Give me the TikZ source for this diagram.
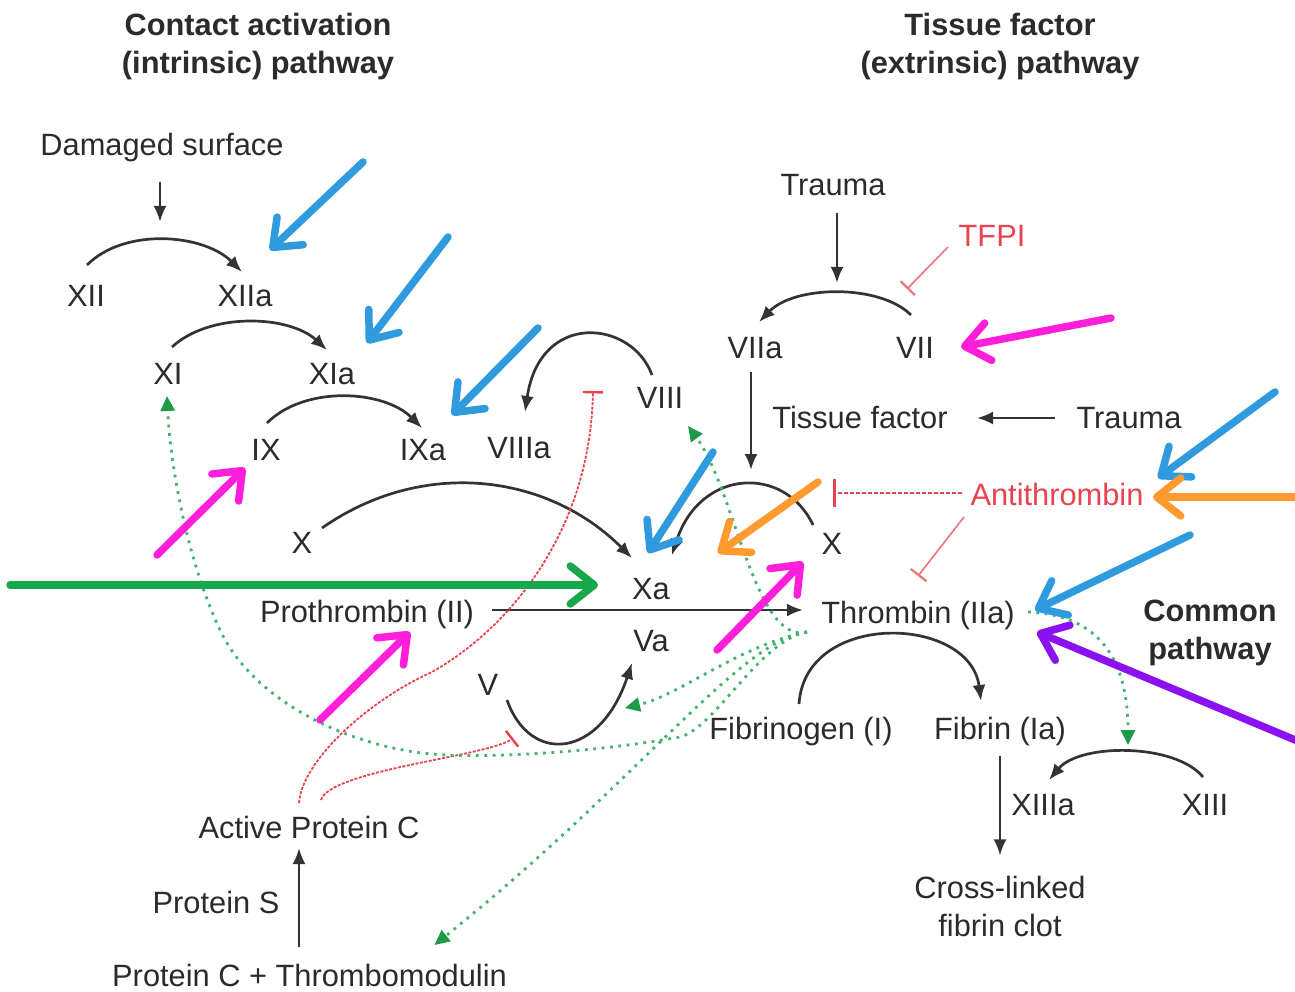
\documentclass[tikz,border=0pt]{standalone}
\usepackage{fontspec}
\setmainfont{Liberation Sans}
\usetikzlibrary{arrows.meta}
\definecolor{txt}{HTML}{2B2B2B}
\definecolor{ln}{HTML}{333333}
\definecolor{rd}{HTML}{E8434E}
\definecolor{rdl}{HTML}{EA7478}
\definecolor{gd}{HTML}{45B36B}
\definecolor{gdh}{HTML}{1E9A4A}
\definecolor{cblue}{HTML}{2F9BDE}
\definecolor{cmag}{HTML}{FF1ED9}
\definecolor{cgreen}{HTML}{17A84B}
\definecolor{corange}{HTML}{FF9A2E}
\definecolor{cpurple}{HTML}{8B10F2}
\begin{document}
\begin{tikzpicture}[x=1pt,y=-1pt,
 lbl/.style={font=\fontsize{30.8}{38}\selectfont, text=txt, inner sep=0pt, anchor=base},
 head/.style={font=\fontsize{30.8}{38}\selectfont\bfseries, text=txt, inner sep=0pt, align=center, anchor=center},
 arr/.style={draw=ln, line width=2.7pt, -{Latex[length=16pt,width=13pt]}},
 inh/.style={draw=rd, line width=1.8pt, dash pattern=on 3pt off 1.5pt, -{Bar[width=20pt,line width=2.4pt]}},
 inhs/.style={draw=rdl, line width=1.6pt, -{Bar[width=20pt,line width=2.2pt]}},
 act/.style={draw=gd, line width=2.8pt, dash pattern=on 2.8pt off 5.6pt, -{Triangle[length=15pt,width=14pt,color=gdh]}},
 big/.style={line width=7.5pt, line cap=round, -{Straight Barb[length=24pt,width=38pt,round]}},
]
\fill[white] (0,0) rectangle (1295,992);
\useasboundingbox (0,0) rectangle (1295,992);

% headings
\node[head] (h1) at (258,47) {Contact activation\\(intrinsic) pathway};
\node[head] (h2) at (1000,47) {Tissue factor\\(extrinsic) pathway};
\node[head] (h3) at (1210,633) {Common\\pathway};

% labels
\node[lbl] (dmg) at (162,156) {Damaged surface};
\node[lbl] (XII) at (86,306) {XII};
\node[lbl] (XIIa) at (245,306) {XIIa};
\node[lbl] (XI) at (168,384) {XI};
\node[lbl] (XIa) at (332,384) {XIa};
\node[lbl] (IX) at (266,460) {IX};
\node[lbl] (IXa) at (423,460) {IXa};
\node[lbl] (VIIIa) at (519,458) {VIIIa};
\node[lbl] (VIII) at (660,408) {VIII};
\node[lbl] (Xl) at (302,553) {X};
\node[lbl] (Xa) at (651,599) {Xa};
\node[lbl] (Va) at (651,651) {Va};
\node[lbl] (Xr) at (832,554) {X};
\node[lbl] (V) at (488,695) {V};
\node[lbl] (pro) at (367,622) {Prothrombin (II)};
\node[lbl] (thr) at (918,623) {Thrombin (IIa)};
\node[lbl] (trauma1) at (833,196) {Trauma};
\node[lbl, text=rd] (tfpi) at (992,247) {TFPI};
\node[lbl] (VIIa) at (755,358) {VIIa};
\node[lbl] (VII) at (915,358) {VII};
\node[lbl] (tf) at (860,428) {Tissue factor};
\node[lbl] (trauma2) at (1129,428) {Trauma};
\node[lbl, text=rd] (at) at (1057,505) {Antithrombin};
\node[lbl] (fgn) at (801,739) {Fibrinogen (I)};
\node[lbl] (fbn) at (1000,739) {Fibrin (Ia)};
\node[lbl] (XIIIa) at (1043,815) {XIIIa};
\node[lbl] (XIII) at (1205,815) {XIII};
\node[lbl, align=center, anchor=center] (clot) at (1000,906) {Cross-linked\\fibrin clot};
\node[lbl] (apc) at (309,838) {Active Protein C};
\node[lbl] (ps) at (216,913) {Protein S};
\node[lbl] (pct) at (309.5,986) {Protein C + Thrombomodulin};

% free ends
\coordinate (dmgT) at (160,222);
\coordinate (tr1T) at (837,283);
\coordinate (v7T) at (751,470);
\coordinate (i8) at (593,391);
\coordinate (i5) at (513,738);
\coordinate (iX) at (833,493);
\coordinate (i7) at (907,289);
\coordinate (gV) at (625,708);
\coordinate (g13) at (1128,745);

% straight black arrows
\draw[arr] ([shift={(-2,26)}]dmg.base) -- (dmgT);
\draw[arr] ([shift={(4,17)}]trauma1.base) -- (tr1T);
\draw[arr] ([shift={(-4,14)}]VIIa.base) -- (v7T);
\draw[arr] ([shift={(-74,-10)}]trauma2.base) -- ([shift={(117,-10)}]tf.base);
\draw[arr] ([shift={(125,-12)}]pro.base) -- ([shift={(-115,-13)}]thr.base);
\draw[arr] ([shift={(0,17)}]fbn.base) -- ([shift={(0,-20)}]clot.north);
\draw[arr] ([shift={(-10.5,-39)}]pct.base) -- ([shift={(-10,10)}]apc.base);

% conversion arcs
\draw[arr] ([shift={(1,-41)}]XII.base) .. controls +(38,-38) and +(-38,-38) .. ([shift={(-3,-34)}]XIIa.base);
\draw[arr] ([shift={(4,-37)}]XI.base) .. controls +(38,-35) and +(-38,-35) .. ([shift={(-5,-34)}]XIa.base);
\draw[arr] ([shift={(1,-37)}]IX.base) .. controls +(38,-38) and +(-38,-38) .. ([shift={(-1,-32)}]IXa.base);
\draw[arr] ([shift={(20,-25)}]Xl.base) .. controls +(100,-70) and +(-85,-85) .. ([shift={(-19,-41)}]Xa.base);
\draw[arr] ([shift={(-8,-33)}]VIII.base) .. controls +(-20,-55) and +(15,-102) .. ([shift={(6,-46)}]VIIIa.base);
\draw[arr] ([shift={(-19,-29)}]Xr.base) .. controls +(-28,-60) and +(28,-87) .. ([shift={(21,-44)}]Xa.base);
\draw[arr] ([shift={(-4,-43)}]VII.base) .. controls +(-31,-31) and +(36,-37) .. ([shift={(4,-36)}]VIIa.base);
\draw[arr] ([shift={(19,5)}]V.base) .. controls +(23,65) and +(-32,96) .. ([shift={(-19,12)}]Va.base);
\draw[arr] ([shift={(-2,-35)}]fgn.base) .. controls +(6,-94) and +(-11,-86) .. ([shift={(-19,-38)}]fbn.base);
\draw[arr] ([shift={(-2,-38)}]XIII.base) .. controls +(-28,-34) and +(31,-37) .. ([shift={(6,-35)}]XIIIa.base);

% inhibitions
\draw[inh] ([shift={(-10,-35)}]apc.base) .. controls (302,760) and (370,700) .. (430,673) .. controls (500,635) and (590,540) .. (i8);
\draw[inh] ([shift={(12,-38)}]apc.base) .. controls (330,770) and (490,756) .. (i5);
\draw[inh, dash pattern=on 4pt off 2pt, line width=2pt, -{Bar[width=28pt,line width=2.8pt]}] ([shift={(-95,-12)}]at.base) -- (iX);
\draw[inhs] ([shift={(-93,12)}]at.base) -- ([shift={(0,-47)}]thr.base);
\draw[inhs] ([shift={(-44,0)}]tfpi.base) -- (i7);

% thrombin feedback activations
\draw[act] ([shift={(-111,9)}]thr.base) .. controls (740,645) and (680,695) .. (gV);
\draw[act] ([shift={(-111,9)}]thr.base) .. controls (760,640) and (715,728) .. (680,737) .. controls (620,748) and (520,758) .. (447,755) .. controls (360,752) and (255,705) .. (220,630) .. controls (185,555) and (170,460) .. ([shift={(-1,12)}]XI.base);
\draw[act] ([shift={(-111,9)}]thr.base) .. controls (755,645) and (735,490) .. ([shift={(28,18)}]VIII.base);
\draw[act] ([shift={(-111,9)}]thr.base) .. controls (740,640) and (640,780) .. ([shift={(125,-41)}]pct.base);
\draw[act] ([shift={(110,-11)}]thr.base) .. controls (1100,615) and (1128,660) .. (g13);

% colored annotation arrows
\coordinate (b1s) at (363,162); \coordinate (b1e) at (270,250);
\coordinate (b2s) at (448,237); \coordinate (b2e) at (367,343);
\coordinate (b3s) at (538,328); \coordinate (b3e) at (452,415);
\coordinate (b4s) at (713,452); \coordinate (b4e) at (648,553);
\coordinate (b5s) at (1275,392); \coordinate (b5e) at (1158,478);
\coordinate (b6s) at (1190,535); \coordinate (b6e) at (1035,610);
\coordinate (m1s) at (157,555); \coordinate (m1e) at (245,468);
\coordinate (m2s) at (320,720); \coordinate (m2e) at (410,632);
\coordinate (m3s) at (717,650); \coordinate (m3e) at (803,562);
\coordinate (m4s) at (1111,318); \coordinate (m4e) at (961,347);
\coordinate (g1s) at (10,585); \coordinate (g1e) at (598,585);
\coordinate (o1s) at (818,482); \coordinate (o1e) at (718,553);
\coordinate (o2s) at (1300,497); \coordinate (o2e) at (1153,497);
\coordinate (p1s) at (1300,742); \coordinate (p1e) at (1037,632);

\draw[big, color=cblue] (b1s) -- (b1e);
\draw[big, color=cblue] (b2s) -- (b2e);
\draw[big, color=cblue] (b3s) -- (b3e);
\draw[big, color=cblue] (b4s) -- (b4e);
\draw[big, color=cblue] (b5s) -- (b5e);
\draw[big, color=cblue] (b6s) -- (b6e);
\draw[big, color=cmag] (m1s) -- (m1e);
\draw[big, color=cmag] (m2s) -- (m2e);
\draw[big, color=cmag] (m3s) -- (m3e);
\draw[big, color=cmag] (m4s) -- (m4e);
\draw[big, color=cgreen] (g1s) -- (g1e);
\draw[big, color=corange] (o1s) -- (o1e);
\draw[big, color=corange] (o2s) -- (o2e);
\draw[big, color=cpurple] (p1s) -- (p1e);
\end{tikzpicture}
\end{document}
